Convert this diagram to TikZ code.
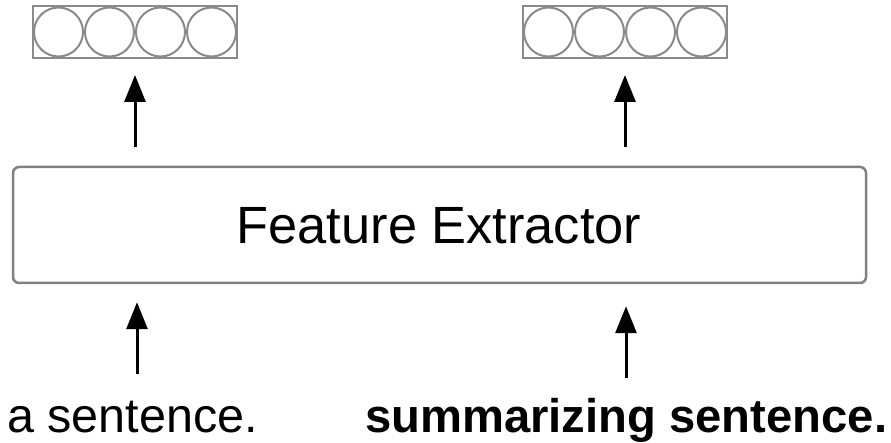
\documentclass[tikz,border=0pt]{standalone}
\usepackage{fontspec}
\setmainfont{Liberation Sans}
\usetikzlibrary{arrows.meta}

\definecolor{vecgray}{HTML}{8A8A8A}
\definecolor{boxgray}{HTML}{808080}

\tikzset{
  vecbox/.style={draw=vecgray, line width=2pt, minimum width=204pt, minimum height=52pt,
                 inner sep=0pt, outer sep=0pt},
  vecunit/.style={draw=vecgray, line width=2pt},
  extractor/.style={draw=boxgray, line width=2.5pt, rounded corners=6pt,
                    minimum width=853pt, minimum height=116pt, inner sep=0pt},
  flow/.style={line width=3pt, -{Triangle[length=27pt,width=21pt]}},
  plainlabel/.style={inner sep=0pt, font=\fontsize{48.5}{58}\selectfont},
  boldlabel/.style={inner sep=0pt, font=\fontsize{47.2}{57}\selectfont\bfseries},
}

% a row of four touching circles in a frame
\newcommand{\featvec}[2]{%
  \node[vecbox] (#1) at #2 {};
  \foreach \k in {0,1,2,3}
    \draw[vecunit] ([xshift={25.5pt+51pt*\k}]#1.west) circle[radius=24.5pt];
}

\begin{document}
\begin{tikzpicture}[x=1pt,y=-1pt]
  \useasboundingbox (0,0) rectangle (891,443);

  % the extractor block
  \node[extractor] (fe) at (439.5,225) {};
  \node[inner sep=0pt, anchor=base, font=\fontsize{52.4}{62}\selectfont] (fetext) at (439,244) {Feature Extractor};

  % output feature vectors
  \featvec{vl}{(135,32)}
  \featvec{vr}{(625,32)}

  % input sentences
  \node[plainlabel, anchor=base west] (inl) at (7,432) {a sentence.};
  \node[boldlabel, anchor=base west] (inr) at (365,432) {summarizing sentence.};

  % arrow start points below the block
  \coordinate (sl) at (137,374);
  \coordinate (sr) at (626,378);

  % inputs into the extractor
  \draw[flow, shorten >=18pt] (sl) -- (fe.south -| sl);
  \draw[flow, shorten >=22pt] (sr) -- (fe.south -| sr);

  % extractor to the feature vectors
  \draw[flow, shorten <=19pt, shorten >=17pt] (fe.north -| vl.south) -- (vl.south);
  \draw[flow, shorten <=19pt, shorten >=17pt] (fe.north -| vr.south) -- (vr.south);
\end{tikzpicture}
\end{document}
